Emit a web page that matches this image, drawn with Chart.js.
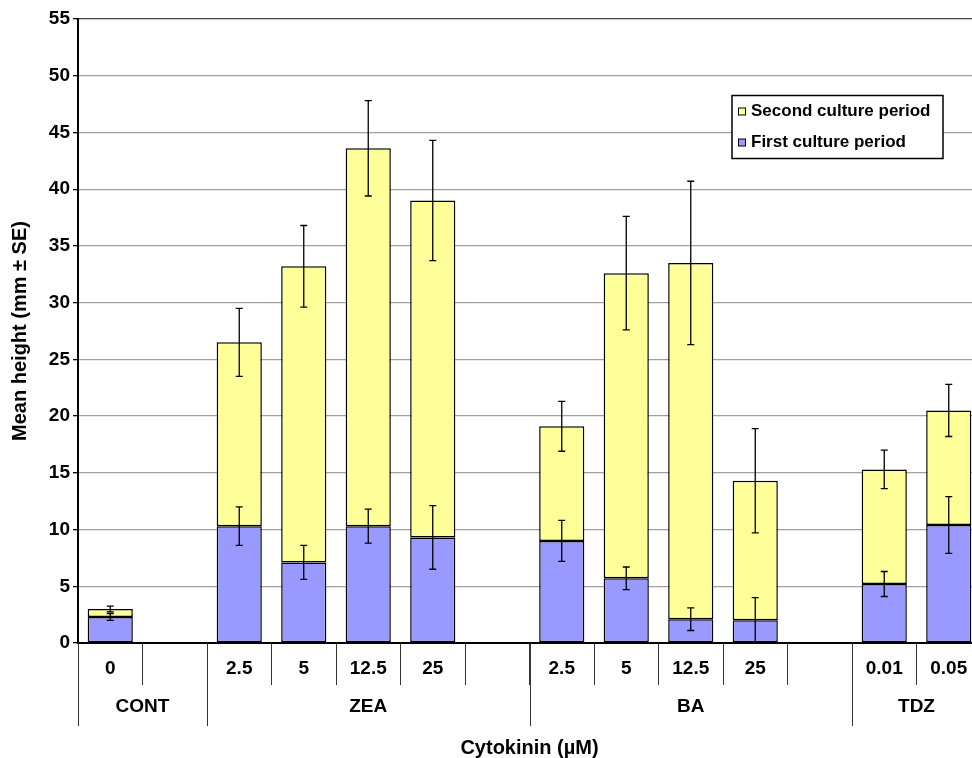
<!DOCTYPE html>
<html lang="en">
<head>
    <meta charset="UTF-8">
    <title>Mean height by cytokinin treatment</title>
    <script src="https://cdn.jsdelivr.net/npm/chart.js"></script>
    <style>
        html, body { margin: 0; padding: 0; overflow: hidden; background: #fff; }
        #chartBox { position: absolute; left: 0; top: 0; width: 981px; height: 758px; }
    </style>
</head>
<body>

<div id="chartBox">
    <canvas id="heightChart"></canvas>
</div>

<script>
    // concentrations (empty slots are gaps between treatments)
    const concentrations = ['0', '', '2.5', '5', '12.5', '25', '', '2.5', '5', '12.5', '25', '', '0.01', '0.05'];
    const groupNames = ['CONT', 'ZEA', 'BA', 'TDZ'];
    const groupStart = [0, 2, 7, 12];
    const groupEnd = [1, 6, 11, 13];

    const firstPeriod = [2.3, null, 10.3, 7.1, 10.3, 9.3, null, 9.0, 5.7, 2.1, 2.0, null, 5.2, 10.4];
    const secondPeriod = [0.7, null, 16.2, 26.1, 33.3, 29.7, null, 10.1, 26.9, 31.4, 12.3, null, 10.1, 10.1];
    const firstSE = [0.3, null, 1.7, 1.5, 1.5, 2.8, null, 1.8, 1.0, 1.0, 2.0, null, 1.1, 2.5];
    const secondSE = [0.25, null, 3.0, 3.6, 4.2, 5.3, null, 2.2, 5.0, 7.2, 4.6, null, 1.7, 2.3];

    const yTicks = [0, 5, 10, 15, 20, 25, 30, 35, 40, 45, 50, 55];

    const FONT = "'Liberation Sans', Arial, sans-serif";

    // error bars drawn at the top of each stacked segment
    const errorBars = {
        id: 'errorBars',
        afterDatasetsDraw(chart) {
            const ctx = chart.ctx;
            const y = chart.scales.y;
            const seLists = [firstSE, secondSE];
            ctx.save();
            ctx.strokeStyle = '#000';
            ctx.lineWidth = 1.3;
            chart.data.datasets.forEach((ds, i) => {
                const meta = chart.getDatasetMeta(i);
                meta.data.forEach((bar, j) => {
                    if (ds.data[j] == null) return;
                    let top = 0;
                    for (let k = 0; k <= i; k++) top += chart.data.datasets[k].data[j];
                    const se = seLists[i][j];
                    const y1 = y.getPixelForValue(Math.max(top - se, 0));
                    const y2 = y.getPixelForValue(top + se);
                    ctx.beginPath();
                    ctx.moveTo(bar.x, y1); ctx.lineTo(bar.x, y2);
                    ctx.moveTo(bar.x - 3.5, y1); ctx.lineTo(bar.x + 3.5, y1);
                    ctx.moveTo(bar.x - 3.5, y2); ctx.lineTo(bar.x + 3.5, y2);
                    ctx.stroke();
                });
            });
            ctx.restore();
        }
    };

    // group labels and long separators under the category ticks
    const groupAxis = {
        id: 'groupAxis',
        afterDraw(chart) {
            const ctx = chart.ctx;
            const x = chart.scales.x;
            const base = chart.chartArea.bottom;
            const edge = i => (x.getPixelForValue(i) + x.getPixelForValue(i + 1)) / 2;
            ctx.save();
            ctx.strokeStyle = '#333';
            ctx.lineWidth = 1;
            ctx.fillStyle = '#000';
            ctx.font = 'bold 19px ' + FONT;
            ctx.textAlign = 'center';
            ctx.textBaseline = 'middle';
            groupNames.forEach((name, g) => {
                const left = groupStart[g] === 0 ? chart.chartArea.left : edge(groupStart[g] - 1);
                const right = groupEnd[g] === concentrations.length - 1 ? chart.chartArea.right : edge(groupEnd[g]);
                const lx = Math.round(left) + 0.5;
                ctx.beginPath();
                ctx.moveTo(lx, base);
                ctx.lineTo(lx, base + 83);
                ctx.stroke();
                ctx.fillText(name, (left + right) / 2, base + 64);
            });
            ctx.restore();
        }
    };

    // legend box inside the plot area
    const boxLegend = {
        id: 'boxLegend',
        afterDraw(chart) {
            const ctx = chart.ctx;
            const bx = 732, by = 95.5, bw = 211, bh = 63;
            ctx.save();
            ctx.fillStyle = '#fff';
            ctx.fillRect(bx, by, bw, bh);
            ctx.strokeStyle = '#000';
            ctx.lineWidth = 1.5;
            ctx.strokeRect(bx, by, bw, bh);
            ctx.font = 'bold 17px ' + FONT;
            ctx.textBaseline = 'middle';
            const items = chart.data.datasets.slice().reverse();
            items.forEach((ds, i) => {
                const cy = by + 16 + i * 31;
                ctx.fillStyle = ds.backgroundColor;
                ctx.fillRect(bx + 6.5, cy - 3.5, 7, 7);
                ctx.lineWidth = 1;
                ctx.strokeStyle = '#000';
                ctx.strokeRect(bx + 6.5, cy - 3.5, 7, 7);
                ctx.fillStyle = '#000';
                ctx.fillText(ds.label, bx + 19, cy);
            });
            ctx.restore();
        }
    };

    const ctx = document.getElementById('heightChart').getContext('2d');
    new Chart(ctx, {
        type: 'bar',
        data: {
            labels: concentrations,
            datasets: [
                {
                    label: 'First culture period',
                    data: firstPeriod,
                    backgroundColor: '#9999FF',
                    borderColor: '#000',
                    borderWidth: 1.5,
                    borderSkipped: false
                },
                {
                    label: 'Second culture period',
                    data: secondPeriod,
                    backgroundColor: '#FFFF99',
                    borderColor: '#000',
                    borderWidth: 1.5,
                    borderSkipped: false
                }
            ]
        },
        options: {
            responsive: true,
            maintainAspectRatio: false,
            animation: false,
            layout: { padding: { top: 19, right: 0, bottom: 0, left: 0 } },
            datasets: { bar: { barPercentage: 0.7, categoryPercentage: 1.0 } },
            plugins: {
                legend: { display: false },
                tooltip: { enabled: false }
            },
            scales: {
                x: {
                    stacked: true,
                    afterFit: s => { s.height = 115; },
                    grid: {
                        offset: true,
                        drawOnChartArea: false,
                        tickLength: 42,
                        tickColor: '#333',
                        tickWidth: 1
                    },
                    border: { color: '#000', width: 2 },
                    ticks: {
                        color: '#000',
                        font: { family: FONT, size: 19, weight: 'bold' },
                        padding: -28,
                        maxRotation: 0,
                        autoSkip: false
                    },
                    title: {
                        display: true,
                        text: 'Cytokinin (\u00b5M)',
                        color: '#000',
                        font: { family: FONT, size: 20, weight: 'bold', lineHeight: 1 },
                        padding: { top: 0, bottom: 0 }
                    }
                },
                y: {
                    stacked: true,
                    min: 0,
                    max: 55,
                    afterFit: s => { s.width = 78; },
                    afterBuildTicks: s => { s.ticks = yTicks.map(v => ({ value: v })); },
                    grid: {
                        color: c => (c.tick && c.tick.value === 55 ? '#444' : '#a0a0a0'),
                        lineWidth: 1.3,
                        tickLength: 5,
                        tickColor: '#000'
                    },
                    border: { color: '#000', width: 2 },
                    ticks: {
                        color: '#000',
                        font: { family: FONT, size: 19, weight: 'bold' },
                        padding: 3
                    },
                    title: {
                        display: true,
                        text: 'Mean height (mm \u00b1 SE)',
                        color: '#000',
                        font: { family: FONT, size: 20, weight: 'bold', lineHeight: 1 },
                        padding: { top: 10, bottom: 0 }
                    }
                }
            }
        },
        plugins: [errorBars, groupAxis, boxLegend]
    });
</script>

</body>
</html>
